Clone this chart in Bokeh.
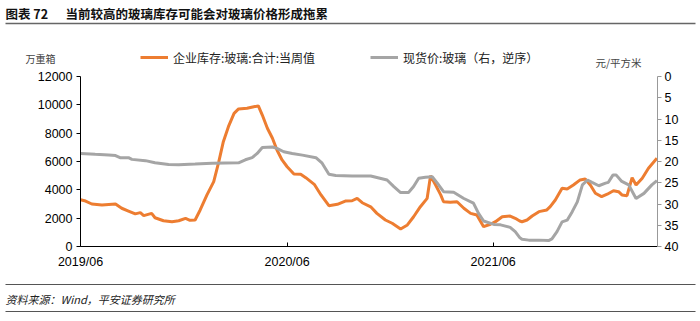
import pandas as pd
from bokeh.plotting import figure
from bokeh.layouts import column
from bokeh.models import (Range1d, LinearAxis, FixedTicker, DatetimeTickFormatter, Label,
                          Legend, LegendItem)
from bokeh.embed import file_html
from bokeh.resources import INLINE

# ---------------- data ----------------
inventory_dates = [
    "2019-06-01", "2019-06-10", "2019-06-21", "2019-07-09", "2019-08-02", "2019-08-13",
    "2019-08-25", "2019-09-06", "2019-09-15", "2019-09-21", "2019-10-05", "2019-10-11",
    "2019-10-26", "2019-11-10", "2019-11-22", "2019-12-04", "2019-12-12", "2019-12-21",
    "2019-12-30", "2020-01-11", "2020-01-23", "2020-02-01", "2020-02-09", "2020-02-18",
    "2020-02-28", "2020-03-07", "2020-03-22", "2020-04-03", "2020-04-11", "2020-04-18",
    "2020-04-27", "2020-05-06", "2020-05-14", "2020-05-23", "2020-06-01", "2020-06-13",
    "2020-06-25", "2020-07-04", "2020-07-19", "2020-07-31", "2020-08-14", "2020-08-29",
    "2020-09-12", "2020-09-24", "2020-10-03", "2020-10-12", "2020-10-27", "2020-11-07",
    "2020-11-22", "2020-12-04", "2020-12-19", "2020-12-31", "2021-01-11", "2021-01-23",
    "2021-02-04", "2021-02-10", "2021-02-19", "2021-02-28", "2021-03-05", "2021-03-17",
    "2021-03-29", "2021-04-10", "2021-04-22", "2021-05-03", "2021-05-15", "2021-05-27",
    "2021-06-05", "2021-06-17", "2021-07-01", "2021-07-10", "2021-07-18", "2021-07-22",
    "2021-07-31", "2021-08-09", "2021-08-21", "2021-09-04", "2021-09-10", "2021-09-19",
    "2021-10-01", "2021-10-10", "2021-10-21", "2021-11-02", "2021-11-11", "2021-11-20",
    "2021-11-29", "2021-12-10", "2021-12-20", "2021-12-31", "2022-01-09", "2022-01-15",
    "2022-01-24", "2022-02-02", "2022-02-09", "2022-02-20", "2022-03-03", "2022-03-18",
]
inventory_values = [
    3300, 3210, 3000, 2930, 3000, 2700,
    2500, 2300, 2390, 2180, 2340, 2030,
    1820, 1750, 1820, 1990, 1850, 1870,
    2580, 3640, 4580, 5990, 7400, 8460,
    9400, 9710, 9760, 9870, 9920, 9280,
    8350, 7640, 6810, 6110, 5630, 5120,
    5100, 4860, 4390, 3640, 2880, 2980,
    3210, 3230, 3400, 3090, 2800, 2340,
    1870, 1640, 1240, 1520, 2100, 2810,
    3400, 5000, 4340, 3640, 3160, 3120,
    3160, 2700, 2340, 2220, 1400, 1570,
    1750, 2100, 2150, 1990, 1800, 1750,
    1870, 2150, 2460, 2580, 2810, 3280,
    4110, 4060, 4340, 4700, 4770, 4340,
    3760, 3520, 3690, 3940, 3870, 3640,
    3590, 4860, 4340, 4820, 5520, 6230,
]

price_dates = [
    "2019-06-01", "2019-06-27", "2019-07-21", "2019-08-02", "2019-08-10", "2019-08-25",
    "2019-08-31", "2019-09-24", "2019-10-11", "2019-11-04", "2019-11-22", "2019-12-21",
    "2020-01-20", "2020-03-07", "2020-03-19", "2020-03-31", "2020-04-09", "2020-04-18",
    "2020-05-06", "2020-05-14", "2020-05-26", "2020-06-10", "2020-06-28", "2020-07-22",
    "2020-08-02", "2020-08-14", "2020-08-26", "2020-09-24", "2020-10-27", "2020-11-25",
    "2020-12-07", "2020-12-19", "2021-01-02", "2021-01-11", "2021-01-20", "2021-02-01",
    "2021-02-13", "2021-02-22", "2021-03-05", "2021-03-23", "2021-04-10", "2021-04-27",
    "2021-05-06", "2021-05-15", "2021-06-02", "2021-06-14", "2021-07-01", "2021-07-10",
    "2021-07-18", "2021-07-22", "2021-08-03", "2021-08-21", "2021-09-07", "2021-09-13",
    "2021-09-22", "2021-10-01", "2021-10-10", "2021-10-19", "2021-10-28", "2021-11-06",
    "2021-11-15", "2021-11-23", "2021-12-05", "2021-12-17", "2021-12-22", "2021-12-30",
    "2022-01-05", "2022-01-14", "2022-01-27", "2022-02-09", "2022-02-23", "2022-03-09",
    "2022-03-18",
]
price_values = [
    18.1, 18.3, 18.45, 18.6, 19.1, 19.1,
    19.5, 19.8, 20.3, 20.7, 20.75, 20.6,
    20.4, 20.3, 19.6, 19.1, 18.1, 16.7,
    16.6, 16.9, 17.7, 18.1, 18.5, 19.1,
    20.4, 23.0, 23.3, 23.4, 23.4, 24.35,
    25.9, 27.3, 27.3, 25.9, 23.95, 23.7,
    23.6, 25.1, 27.1, 27.25, 28.7, 29.8,
    32.2, 34.0, 34.8, 34.9, 35.5, 36.5,
    37.9, 38.3, 38.5, 38.5, 38.6, 38.2,
    36.5, 34.2, 33.8, 31.8, 29.5, 25.5,
    24.35, 24.9, 25.7, 25.1, 24.9, 23.2,
    23.2, 24.6, 25.5, 28.7, 27.5, 25.5,
    24.5,
]

left_ticks = [0, 2000, 4000, 6000, 8000, 10000, 12000]
right_ticks = [0, 5, 10, 15, 20, 25, 30, 35, 40]
x_tick_dates = ["2019-06-01", "2020-06-01", "2021-06-01"]

series1_name = "企业库存:玻璃:合计:当周值"
series2_name = "现货价:玻璃（右，逆序）"
title_prefix = "图表 72"
title_text = "当前较高的玻璃库存可能会对玻璃价格形成拖累"
left_unit = "万重箱"
right_unit = "元/平方米"
source_text = "资料来源：Wind，平安证券研究所"

# ---------------- styling ----------------
ORANGE = "#ED7D31"
GRAY = "#A5A5A5"
CJK = "Noto Sans CJK SC"
NUM = "Liberation Sans"
W = 700
TOP_H, MAIN_H, BOT_H = 70, 208, 43


def canvas_fig(h):
    f = figure(width=W, height=h, x_range=Range1d(0, W), y_range=Range1d(h, 0),
               x_axis_location=None, y_axis_location=None, toolbar_location=None,
               output_backend="svg", min_border=0, title=None, frame_align=False)
    f.outline_line_color = None
    f.grid.visible = False
    f.background_fill_color = "white"
    f.border_fill_color = "white"
    return f


def lab(f, X, Y, text, size, color="#222222", style="normal", font=CJK):
    f.add_layout(Label(x=X, y=Y, text=text, text_font=font, text_font_size=size,
                       text_color=color, text_font_style=style, text_baseline="middle",
                       text_align="left"))


# ---------------- top band: title, legend, units ----------------
top = canvas_fig(TOP_H)
lab(top, 5, 13, title_prefix, "12.5px", "#111111", "bold")
lab(top, 65, 13, title_text, "12.5px", "#111111", "bold")
top.segment(x0=[5], y0=[23], x1=[695], y1=[23], line_color="#666666", line_width=1.5)
lab(top, 25, 58, left_unit, "10px", "#444444")
lab(top, 595, 62, right_unit, "10.5px", "#444444")

# legend keys: renderers kept outside the visible band, used only for their swatches
k1 = top.line(x=[-50, -40], y=[-50, -50], line_color=ORANGE, line_width=3)
k2 = top.line(x=[-50, -40], y=[-50, -50], line_color=GRAY, line_width=3)
for rend, name, X in [(k1, series1_name, 140), (k2, series2_name, 370)]:
    lg = Legend(items=[LegendItem(label=name, renderers=[rend])], location=(X, TOP_H - 67),
                orientation="horizontal", glyph_width=28, glyph_height=20, label_height=20,
                label_standoff=5, padding=0, margin=0, border_line_color=None,
                background_fill_alpha=0, label_text_font=CJK, label_text_font_size="12px",
                label_text_color="#222222")
    top.add_layout(lg)

# ---------------- main chart ----------------
inv_x = pd.to_datetime(inventory_dates)
price_x = pd.to_datetime(price_dates)

p = figure(width=W, height=MAIN_H, x_axis_type="datetime", output_backend="svg",
           toolbar_location=None, title=None, frame_align=False,
           x_range=Range1d(pd.Timestamp("2019-06-01"), pd.Timestamp("2022-03-19")),
           y_range=Range1d(0, 12000),
           min_border_left=80, min_border_right=43, min_border_top=6, min_border_bottom=32)
p.extra_y_ranges = {"right": Range1d(start=40, end=0)}
p.outline_line_color = None
p.xgrid.visible = False
p.ygrid.visible = False
p.background_fill_color = "white"
p.border_fill_color = "white"

p.line(inv_x, inventory_values, line_color=ORANGE, line_width=3)
p.line(price_x, price_values, line_color=GRAY, line_width=3, y_range_name="right")

la = p.yaxis[0]
la.ticker = FixedTicker(ticks=left_ticks)
la.axis_line_color = "#000000"
la.major_tick_line_color = "#000000"
la.major_tick_out = 4
la.major_tick_in = 0
la.minor_tick_line_color = None
la.major_label_text_font = NUM
la.major_label_text_font_size = "12.5px"
la.major_label_text_color = "#000000"
la.major_label_standoff = 4

ra = LinearAxis(y_range_name="right", ticker=FixedTicker(ticks=right_ticks))
ra.axis_line_color = "#999999"
ra.major_tick_line_color = "#999999"
ra.major_tick_out = 4
ra.major_tick_in = 0
ra.minor_tick_line_color = None
ra.major_label_text_font = NUM
ra.major_label_text_font_size = "12.5px"
ra.major_label_text_color = "#000000"
ra.major_label_standoff = 3
p.add_layout(ra, "right")

xa = p.xaxis[0]
xa.ticker = FixedTicker(ticks=[pd.Timestamp(d).value / 1e6 for d in x_tick_dates])
fmt = "%Y/%m"
xa.formatter = DatetimeTickFormatter(milliseconds=fmt, seconds=fmt, minsec=fmt, minutes=fmt,
                                     hourmin=fmt, hours=fmt, days=fmt, months=fmt, years=fmt)
xa.axis_line_color = "#000000"
xa.major_tick_line_color = "#000000"
xa.major_tick_in = 4
xa.major_tick_out = 0
xa.minor_tick_line_color = None
xa.major_label_text_font = NUM
xa.major_label_text_font_size = "12.5px"
xa.major_label_text_color = "#000000"
xa.major_label_standoff = 8

# ---------------- bottom band: source ----------------
bot = canvas_fig(BOT_H)
bot.segment(x0=[5, 5], y0=[6, 33], x1=[695, 695], y1=[6, 33], line_color="#555555",
            line_width=1.2)
lab(bot, 5, 20, source_text, "11px", "#222222", "italic")

layout = column(top, p, bot, spacing=0)
open("out.html", "w").write(file_html(layout, INLINE))
